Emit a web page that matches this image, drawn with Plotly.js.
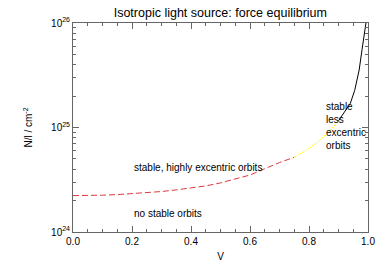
<!DOCTYPE html>
<html><head><meta charset="utf-8">
<script src="https://cdn.plot.ly/plotly-3.0.1.min.js"></script>
<style>html,body{margin:0;padding:0;background:#fff}#c{width:390px;height:279px}</style>
</head><body><div id="c"></div>
<script>
// Red dashed segment: stable, highly excentric orbits
var vRed = [0.00,0.05,0.10,0.15,0.20,0.25,0.30,0.35,0.40,0.45,0.50,0.55,0.60,0.65,0.70,0.75];
var nRed = [2.23e24,2.23e24,2.25e24,2.28e24,2.32e24,2.38e24,2.44e24,2.53e24,2.63e24,2.76e24,2.95e24,3.20e24,3.51e24,4.03e24,4.62e24,5.19e24];
// Yellow segment: transition
var vYel = [0.75,0.78,0.80,0.83,0.85,0.87,0.90];
var nYel = [5.19e24,5.80e24,6.31e24,7.30e24,8.13e24,9.20e24,1.16e25];
// Black solid segment: stable, less excentric orbits
var vBlk = [0.90,0.92,0.94,0.955,0.97,0.98,0.99,0.993];
var nBlk = [1.16e25,1.41e25,1.70e25,2.27e25,3.55e25,5.62e25,9.33e25,1.0e26];
var yTickVals = [1e24,1e25,1e26];
var yTickText = ['10<sup>24</sup>','10<sup>25</sup>','10<sup>26</sup>'];
var xTickVals = [0,0.2,0.4,0.6,0.8,1.0];
var xTickText = ['0.0','0.2','0.4','0.6','0.8','1.0'];

var font = {family:'Liberation Sans, Arial, sans-serif', size:10, color:'#000'};
var traces = [
  {x:vRed, y:nRed, mode:'lines', line:{color:'#e0393e', width:1, dash:'6px,3px'}, hoverinfo:'none'},
  {x:vYel, y:nYel, mode:'lines', line:{color:'#ffff00', width:1, dash:'2px,1px'}, hoverinfo:'none'},
  {x:vBlk, y:nBlk, mode:'lines', line:{color:'#000', width:1}, hoverinfo:'none'}
];
var layout = {
  width:390, height:279,
  margin:{l:73, r:22, t:23, b:47},
  showlegend:false,
  paper_bgcolor:'#fff', plot_bgcolor:'#fff',
  font:font,
  title:{text:'Isotropic light source: force equilibrium', font:{family:'Liberation Sans, Arial, sans-serif', size:12.5, color:'#000'}, x:0.565, xanchor:'center', y:0.955, yanchor:'middle'},
  xaxis:{range:[0,1], tickvals:xTickVals, ticktext:xTickText, ticks:'inside', ticklen:6, tickcolor:'#666', showline:true, linecolor:'#666', linewidth:1, mirror:'ticks', showgrid:false, zeroline:false,
    minor:{dtick:0.05, ticks:'inside', ticklen:3, tickcolor:'#666', showgrid:false},
    title:{text:'V', font:{size:10}, standoff:6}, tickfont:{size:10}},
  yaxis:{type:'log', range:[24,26], tickvals:yTickVals, ticktext:yTickText, ticks:'inside', ticklen:6, tickcolor:'#666', showline:true, linecolor:'#666', linewidth:1, mirror:'ticks', showgrid:false, zeroline:false,
    minor:{dtick:'D1', ticks:'inside', ticklen:3, tickcolor:'#666', showgrid:false},
    title:{text:'N/l / cm<sup>-2</sup>', font:{size:10}, standoff:16}, tickfont:{size:10}},
  annotations:[
    {x:0.2, y:Math.log10(4.1e24), xref:'x', yref:'y', text:'stable, highly excentric orbits', showarrow:false, xanchor:'left', yanchor:'middle', font:font},
    {x:0.2, y:Math.log10(1.5e24), xref:'x', yref:'y', text:'no stable orbits', showarrow:false, xanchor:'left', yanchor:'middle', font:font},
    {x:0.85, y:Math.log10(1.04e25), xref:'x', yref:'y', text:'stable<br>less<br>excentric<br>orbits', showarrow:false, xanchor:'left', yanchor:'middle', align:'left', font:font}
  ]
};
Plotly.newPlot('c', traces, layout, {staticPlot:true, displayModeBar:false});
</script></body></html>
